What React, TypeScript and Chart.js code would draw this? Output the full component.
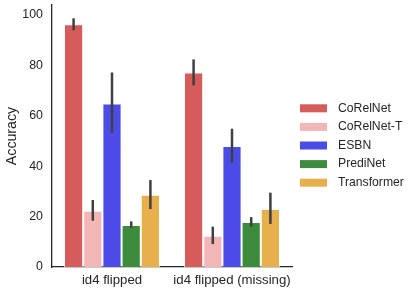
import React, { useEffect, useRef } from "react";
import { Chart, registerables } from "chart.js";

Chart.register(...registerables);

const categories = ["id4 flipped", "id4 flipped (missing)"];
const seriesNames = ["CoRelNet", "CoRelNet-T", "ESBN", "PrediNet", "Transformer"];
const seriesColors = ["#d65b5b", "#f2b6b6", "#4b4be6", "#3d8c3d", "#e8b04c"];
const corelnet = [96.4, 77.2];
const corelnetT = [22.3, 12.4];
const esbn = [64.9, 48.0];
const predinet = [16.7, 17.9];
const transformer = [28.7, 23.0];
const corelnetErr = [[94.0, 98.7], [72.1, 82.4]];
const corelnetTErr = [[18.4, 26.6], [9.1, 16.0]];
const esbnErr = [[53.3, 77.2], [41.4, 54.9]];
const predinetErr = [[15.6, 18.1], [16.0, 19.8]];
const transformerErr = [[23.0, 34.5], [17.1, 29.5]];
const yTicks = [0, 20, 40, 60, 80, 100];

const seriesValues = [corelnet, corelnetT, esbn, predinet, transformer];
const seriesErrs = [corelnetErr, corelnetTErr, esbnErr, predinetErr, transformerErr];

const FONT = "'Liberation Sans', Arial, sans-serif";
const TEXT = "#262626";

const errorBarPlugin = {
  id: "errorBars",
  afterDatasetsDraw(chart: any) {
    const ctx = chart.ctx;
    const yScale = chart.scales.y;
    ctx.save();
    ctx.strokeStyle = "#3f3f3f";
    ctx.lineWidth = 2.5;
    chart.data.datasets.forEach((ds: any, di: number) => {
      const meta = chart.getDatasetMeta(di);
      meta.data.forEach((bar: any, i: number) => {
        const [lo, hi] = seriesErrs[di][i];
        ctx.beginPath();
        ctx.moveTo(bar.x, yScale.getPixelForValue(lo));
        ctx.lineTo(bar.x, yScale.getPixelForValue(hi));
        ctx.stroke();
      });
    });
    ctx.restore();
  },
};

const legendPlugin = {
  id: "customLegend",
  afterDraw(chart: any) {
    const ctx = chart.ctx;
    ctx.save();
    ctx.font = `12.2px ${FONT}`;
    ctx.textBaseline = "middle";
    ctx.textAlign = "left";
    seriesNames.forEach((name, i) => {
      const cy = 108.3 + i * 18.6;
      ctx.fillStyle = seriesColors[i];
      ctx.fillRect(300, cy - 4, 27, 8);
      ctx.fillStyle = TEXT;
      ctx.fillText(name, 338, cy);
    });
    ctx.restore();
  },
};

export default function App() {
  const ref = useRef<HTMLCanvasElement | null>(null);
  useEffect(() => {
    document.body.style.margin = "0";
    if (!ref.current) return;
    const chart = new Chart(ref.current, {
      type: "bar",
      data: {
        labels: categories,
        datasets: seriesNames.map((name, i) => ({
          label: name,
          data: seriesValues[i],
          backgroundColor: seriesColors[i],
          borderColor: "rgba(255,255,255,0.7)",
          borderWidth: 1,
          categoryPercentage: 0.8,
          barPercentage: 1.0,
        })),
      },
      options: {
        responsive: false,
        animation: false,
        layout: { padding: { top: 5, right: 124, left: 0, bottom: 0 } },
        plugins: { legend: { display: false }, tooltip: { enabled: false } },
        scales: {
          x: {
            grid: { display: false, drawTicks: false },
            border: { display: true, color: "#262626", width: 1.3 },
            ticks: { color: TEXT, font: { family: FONT, size: 13.2 }, padding: 5, maxRotation: 0, minRotation: 0, autoSkip: false },
            afterFit: (s: any) => { s.height = 26; s.paddingLeft = 0; s.paddingRight = 0; },
          },
          y: {
            min: 0,
            max: 104,
            afterBuildTicks: (s: any) => { s.ticks = yTicks.map((v) => ({ value: v })); },
            grid: { display: false, drawTicks: false },
            border: { display: true, color: "#262626", width: 1.3 },
            ticks: { color: TEXT, font: { family: FONT, size: 12.4 }, padding: 9 },
            title: { display: true, text: "Accuracy", color: TEXT, font: { family: FONT, size: 14.2 }, padding: { top: 3.5, bottom: 0 } },
            afterFit: (s: any) => { s.width = 52; s.paddingTop = 0; s.paddingBottom = 0; },
          },
        },
      },
      plugins: [errorBarPlugin, legendPlugin],
    });
    return () => chart.destroy();
  }, []);
  return <canvas ref={ref} width={416} height={293} style={{ display: "block" }} />;
}
